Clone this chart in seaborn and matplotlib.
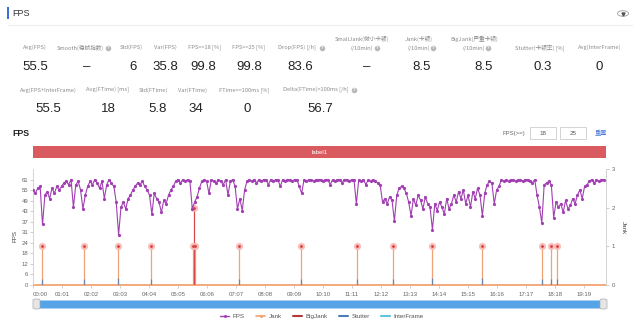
import numpy as np
import matplotlib
matplotlib.use("Agg")
import matplotlib.pyplot as plt
from matplotlib.patches import Rectangle, Circle, FancyBboxPatch
from matplotlib.lines import Line2D
import seaborn as sns

sns.set_theme(style="white")
plt.rcParams['font.family'] = ['Liberation Sans', 'Noto Sans CJK SC', 'DejaVu Sans']
CJK = ['Noto Sans CJK SC', 'DejaVu Sans']

# ---------------- data ----------------
sample_step = 5
fps_values = [
    55, 53, 56, 57, 35, 52, 54, 50, 56, 53, 57, 55,
    57, 59, 60, 58, 61, 45, 58, 60, 55, 44, 52, 57,
    60, 58, 61, 59, 56, 60, 50, 58, 61, 59, 57, 48,
    29, 45, 48, 44, 50, 52, 55, 57, 59, 58, 60, 57,
    55, 52, 41, 53, 50, 48, 42, 49, 47, 52, 55, 57,
    60, 61, 59, 61, 60, 61, 60, 44, 48, 51, 56, 60,
    61, 60, 53, 61, 60, 59, 61, 60, 58, 61, 52, 60,
    61, 57, 44, 50, 43, 55, 60, 61, 60, 61, 59, 61,
    60, 61, 61, 58, 61, 60, 61, 61, 57, 61, 60, 61,
    61, 60, 61, 61, 57, 53, 61, 60, 61, 61, 60, 61,
    61, 61, 60, 61, 61, 58, 61, 60, 61, 61, 59, 61,
    61, 60, 61, 61, 47, 61, 60, 61, 58, 61, 60, 61,
    60, 59, 58, 48, 50, 47, 51, 49, 37, 52, 56, 57,
    56, 53, 48, 40, 50, 46, 52, 49, 44, 51, 47, 45,
    32, 47, 43, 48, 45, 41, 50, 44, 47, 52, 48, 54,
    50, 55, 47, 52, 45, 54, 50, 56, 52, 40, 53, 58,
    60, 59, 47, 55, 57, 61, 60, 61, 60, 61, 61, 60,
    61, 61, 60, 61, 61, 60, 59, 61, 52, 45, 36, 58,
    59, 60, 58, 39, 48, 45, 47, 42, 49, 44, 46, 50,
    47, 52, 55, 50, 57, 58, 60, 61, 59, 61, 60, 61,
    61,
]
fps_time = np.arange(len(fps_values)) * sample_step
total_seconds = 1205

jank_times = [18, 107, 178, 248, 336, 340, 434, 564, 682, 758, 840, 945, 1071, 1090, 1103]
jank_values = [1] * len(jank_times)
bigjank_times = [338]
bigjank_values = [2]
stutter_times = [18, 107, 178, 248, 338, 434, 564, 682, 758, 840, 945, 1071, 1090, 1103]
stutter_values = [0.15, 0.15, 0.18, 0.15, 0.45, 0.15, 0.15, 0.15, 0.15, 0.18, 0.18, 0.15, 0.15, 0.15]

x_tick_seconds = [61 * k for k in range(20)]
x_tick_labels = ["00:00", "01:01", "02:02", "03:03", "04:04", "05:05", "06:06", "07:07",
                 "08:08", "09:09", "10:10", "11:11", "12:12", "13:13", "14:14", "15:15",
                 "16:16", "17:17", "18:18", "19:19"]
fps_tick_values = [6.1 * k for k in range(11)]
fps_tick_labels = ["0", "6", "12", "18", "24", "31", "37", "43", "49", "55", "61"]
fps_axis_max = 67.1
jank_tick_values = [0, 1, 2, 3]

stat_labels_1 = ['Avg(FPS)', 'Smooth(稳帧指数)', 'Std(FPS)', 'Var(FPS)', 'FPS>=18 [%]',
                 'FPS>=25 [%]', 'Drop(FPS) [/h]', 'SmallJank(微小卡顿)\n(/10min)',
                 'Jank(卡顿)\n(/10min)', 'BigJank(严重卡顿)\n(/10min)', 'Stutter(卡顿率) [%]',
                 'Avg(InterFrame)']
stat_values_1 = ['55.5', '–', '6', '35.8', '99.8', '99.8', '83.6', '–', '8.5', '8.5', '0.3', '0']
stat_labels_2 = ['Avg(FPS+InterFrame)', 'Avg(FTime) [ms]', 'Std(FTime)', 'Var(FTime)',
                 'FTime>=100ms [%]', 'Delta(FTime)>100ms [/h]']
stat_values_2 = ['55.5', '18', '5.8', '34', '0', '56.7']
fps_thresholds = ['18', '25']

# ---------------- layout helpers ----------------
W, H = 640, 322
fig = plt.figure(figsize=(W / 100, H / 100), dpi=100)
fig.patch.set_facecolor('white')


def P(x, y):
    return x / W, 1 - y / H


def ftext(x, y, s, **kw):
    fig.text(*P(x, y), s, **kw)


def frect(x, y, w, h, **kw):
    fig.add_artist(Rectangle((x / W, 1 - (y + h) / H), w / W, h / H,
                             transform=fig.transFigure, **kw))


def help_icon(x, y):
    fig.add_artist(Line2D([x / W], [1 - y / H], marker='o', markersize=4.0,
                          markerfacecolor='#b8b8b8', markeredgewidth=0,
                          transform=fig.transFigure))
    ftext(x, y + 0.3, '?', fontsize=3, color='white', ha='center', va='center',
          fontweight='bold')


# header
frect(7, 7, 1.6, 12, color='#3b6fd6', lw=0)
ftext(12, 13.5, 'FPS', fontsize=6.5, color='#333333', va='center')
fig.add_artist(Circle(P(623, 13.5), 5.5 / W, transform=fig.transFigure,
                      fill=False, edgecolor='#999999', lw=0.6))
fig.add_artist(Line2D([623 / W], [1 - 13.8 / H], marker='v', markersize=2.2,
                      color='#555555', transform=fig.transFigure))
fig.add_artist(Line2D([8 / W, 632 / W], [1 - 25 / H, 1 - 25 / H], color='#eeeeee',
                      lw=0.8, transform=fig.transFigure))

label_kw = dict(fontsize=4.1, color='#8a8a8a', ha='center', va='center', family=CJK)
value_kw = dict(fontsize=9.5, color='#222222', ha='center', va='center')

lab1_x = [35, 80, 131, 165, 205, 249, 297, 362, 419, 474, 540, 600]
val1_x = [35, 87, 133, 165, 203, 249, 300, 367, 422, 484, 543, 599]
for i, (lab, val) in enumerate(zip(stat_labels_1, stat_values_1)):
    lines = lab.split('\n')
    if len(lines) == 2:
        ftext(lab1_x[i], 38.5, lines[0], **label_kw)
        ftext(lab1_x[i], 48, lines[1], **label_kw)
    else:
        ftext(lab1_x[i], 47.5, lab, **label_kw)
    ftext(val1_x[i], 67.5, val, **value_kw)
for hx, hy in [(108, 47.5), (322, 47.5), (377, 48), (433, 48), (488, 48)]:
    help_icon(hx, hy)

lab2_x = [48, 107, 153, 193, 244, 316]
val2_x = [48, 108, 158, 196, 247, 320]
for i, (lab, val) in enumerate(zip(stat_labels_2, stat_values_2)):
    ftext(lab2_x[i], 90, lab, **label_kw)
    ftext(val2_x[i], 109.5, val, **value_kw)
help_icon(354, 90)

# chart header
ftext(12, 133, 'FPS', fontsize=6.3, color='#222222', fontweight='bold', va='center')
ftext(525, 133, 'FPS(>=)', fontsize=4.3, color='#666666', ha='right', va='center')
for bx, val in zip([530, 560], fps_thresholds):
    frect(bx, 127, 26, 12, facecolor='white', edgecolor='#cccccc', lw=0.6)
    ftext(bx + 13, 133.3, val, fontsize=4.5, color='#555555', ha='center', va='center')
ftext(601, 133, '重置', fontsize=4.5, color='#4a7bd6', ha='center', va='center', family=CJK)

# label band
frect(33, 146, 573, 12, color='#d95b60', lw=0)
ftext(320, 152, 'label1', fontsize=4.3, color='white', ha='center', va='center')

# ---------------- main plot ----------------
ax = fig.add_axes([33 / W, 1 - 285 / H, 573 / W, 116 / H])
ax2 = ax.twinx()
ax.set_zorder(2)
ax.patch.set_visible(False)

purple = '#a23fb3'
orange = '#f2a373'
darkred = '#b23a3c'
blue = '#4d7cb8'
lightblue = '#5cc3de'

# jank series on right axis
ax2.plot([0, total_seconds], [0, 0], color=orange, lw=1.3, solid_capstyle='butt',
         clip_on=False, zorder=1)
ax2.vlines(jank_times, 0, jank_values, color=orange, lw=0.9, zorder=2)
ax2.vlines(stutter_times, 0, stutter_values, color=blue, lw=0.9, zorder=3, alpha=0.8)
ax2.vlines(bigjank_times, 0, bigjank_values, color='#d9484a', lw=0.9, zorder=3)
ax2.plot(jank_times, jank_values, 'o', ms=5.2, color='#f7b8b4', mew=0, alpha=0.9, zorder=4)
ax2.plot(jank_times, jank_values, 'o', ms=2.0, color='#d93a3a', mew=0, zorder=5)
ax2.plot(bigjank_times, bigjank_values, 'o', ms=5.2, color='#f7b8b4', mew=0, alpha=0.9, zorder=4)
ax2.plot(bigjank_times, bigjank_values, 'o', ms=2.0, color='#d93a3a', mew=0, zorder=5)

sns.lineplot(x=fps_time, y=fps_values, ax=ax, color=purple, lw=0.8, marker='o',
             markersize=2.3, markeredgewidth=0, zorder=5)

ax.set_xlim(0, total_seconds)
ax.set_ylim(0, fps_axis_max)
ax2.set_ylim(0, 3)
ax2.set_xlim(0, total_seconds)

ax.set_yticks(fps_tick_values)
ax.set_yticklabels(fps_tick_labels)
ax.set_xticks(x_tick_seconds)
ax.set_xticklabels(x_tick_labels)
ax.get_xticklabels()[0].set_ha('left')
ax2.set_yticks(jank_tick_values)
ax2.set_yticklabels([str(v) for v in jank_tick_values])

for a in (ax, ax2):
    a.grid(False)
    for s in a.spines.values():
        s.set_visible(False)
ax.spines['left'].set_visible(True)
ax.spines['left'].set_color('#cccccc')
ax.spines['left'].set_linewidth(0.6)
ax2.spines['right'].set_visible(True)
ax2.spines['right'].set_color('#cccccc')
ax2.spines['right'].set_linewidth(0.6)

ax.tick_params(axis='y', left=True, length=2, width=0.5, color='#bbbbbb',
               labelsize=4.3, labelcolor='#666666', pad=1.5)
ax.tick_params(axis='x', bottom=True, length=2, width=0.5, color='#bbbbbb',
               labelsize=4.3, labelcolor='#666666', pad=3)
ax2.tick_params(axis='y', right=True, length=2, width=0.5, color='#bbbbbb',
                labelsize=4.3, labelcolor='#666666', pad=2)
ax.set_ylabel('')
ax.set_xlabel('')

ftext(15, 236, 'FPS', fontsize=4.5, color='#444444', rotation=90, ha='center', va='center')
ftext(623, 228, 'Jank', fontsize=4.5, color='#444444', rotation=270, ha='center', va='center')

# slider
frect(36, 300, 567, 8, facecolor='#56a3e8', edgecolor='#a9d0f3', lw=0.6)
for hx in [33, 600]:
    fig.add_artist(FancyBboxPatch((hx / W, 1 - 309 / H), 7 / W, 10 / H,
                                  boxstyle='round,pad=0,rounding_size=0.004',
                                  transform=fig.transFigure, facecolor='#e6e6e6',
                                  edgecolor='#aaaaaa', lw=0.5))

# legend
handles = [
    Line2D([], [], color=purple, lw=1, marker='o', ms=2.2, mew=0),
    Line2D([], [], color=orange, lw=1.2, marker='o', ms=2.2, mew=0),
    Line2D([], [], color=darkred, lw=1.5),
    Line2D([], [], color=blue, lw=1.5),
    Line2D([], [], color=lightblue, lw=1.5),
]
fig.legend(handles, ['FPS', 'Jank', 'BigJank', 'Stutter', 'InterFrame'],
           loc='center', bbox_to_anchor=P(322, 316), ncol=5, frameon=False,
           fontsize=4.5, labelcolor='#555555', handlelength=1.4, handletextpad=0.6,
           columnspacing=1.8)

fig.savefig('out.png', dpi=100, facecolor='white')
